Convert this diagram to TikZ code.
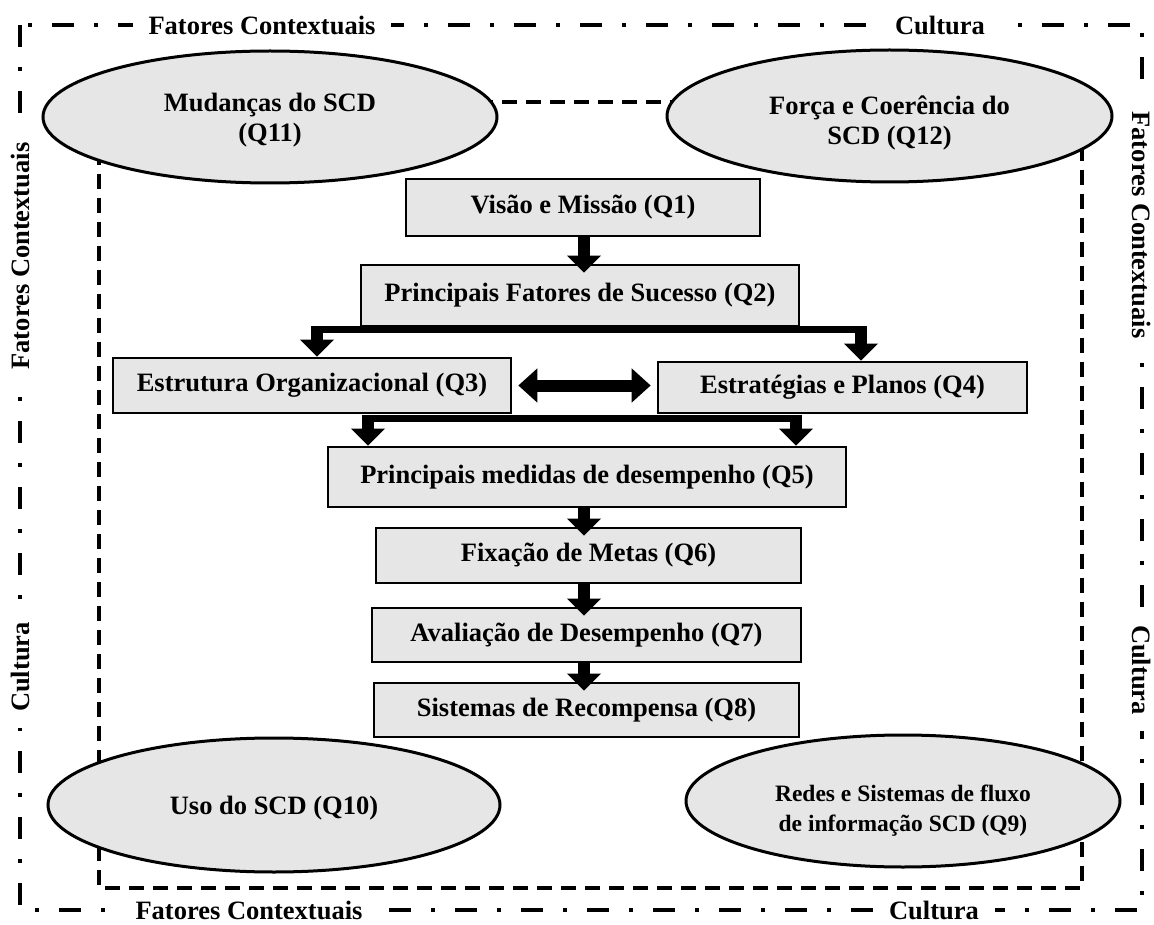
\documentclass[tikz,border=0pt]{standalone}
\usepackage{xcolor}
\usepackage{fontspec}
\setmainfont{Liberation Serif}
\usepackage{tikz}
\usetikzlibrary{arrows.meta,shapes.geometric}
\definecolor{scdGray}{HTML}{E6E6E6}
\definecolor{scdInk}{HTML}{000000}
\tikzset{
  qbox/.style={draw=scdInk, fill=scdGray, line width=2.6pt, inner sep=0pt, lbl},
  qell/.style={ellipse, draw=scdInk, fill=scdGray, line width=3pt, inner sep=0pt, align=center, lbl},
  flow/.style={-{Triangle[width=33pt, length=17pt]}, line width=12pt, scdInk},
  dip/.style={shorten >=-9pt},
  both/.style={{Triangle[width=33pt, length=19pt]}-{Triangle[width=33pt, length=19pt]}, line width=12pt, shorten <=6pt, shorten >=6pt},
  bar/.style={line width=7pt, scdInk},
  frameline/.style={line width=4.5pt, dash pattern=on 22pt off 20pt on 4pt off 20pt},
  innerline/.style={line width=4.5pt, dash pattern=on 15pt off 9pt},
  edge/.style={fill=white, inner xsep=16pt, inner ysep=7pt, lbl},
  lbl/.style={font=\fontsize{26.5}{30}\selectfont\bfseries},
  sm/.style={font=\fontsize{23.5}{30}\selectfont\bfseries},
}
\begin{document}
\begin{tikzpicture}[x=1pt, y=-1pt]
  \useasboundingbox (0,0) rectangle (1154,925);
  % frames
  \draw[frameline] (20,25) rectangle (1142,910);
  \draw[innerline] (99,102) rectangle (1082,888);
  \node[edge] (topF) at (262,25) {Fatores Contextuais};
  \node[edge] (topC) at (940,25) {Cultura};
  \node[edge] (botF) at (249,910) {Fatores Contextuais};
  \node[edge] (botC) at (934,910) {Cultura};
  \node[edge, rotate=90] (leftF) at (20,256) {Fatores Contextuais};
  \node[edge, rotate=90] (leftC) at (20,667) {Cultura};
  \node[edge, rotate=-90] (rightF) at (1142,225) {Fatores Contextuais};
  \node[edge, rotate=-90] (rightC) at (1142,670) {Cultura};
  % the four SCD ellipses
  \node[qell, minimum width=454pt, minimum height=132pt] (q11) at (270,117) {\rule{0pt}{24pt}Mudanças do SCD\\(Q11)};
  \node[qell, minimum width=445pt, minimum height=132pt] (q12) at (889.5,116) {\rule{0pt}{32pt}Força e Coerência do\\SCD (Q12)};
  \node[qell, minimum width=452pt, minimum height=134pt] (q10) at (274,805) {\rule{0pt}{24pt}Uso do SCD (Q10)};
  \node[qell, sm, minimum width=434pt, minimum height=132pt] (q9) at (903,801) {\rule{0pt}{36pt}Redes e Sistemas de fluxo\\de informação SCD (Q9)};
  % chain of boxes
  \node[qbox, minimum width=354pt, minimum height=57pt] (q1) at (583,207.5) {Visão e Missão (Q1)};
  \node[qbox, minimum width=438pt, minimum height=61pt] (q2) at (580,295.5) {Principais Fatores de Sucesso (Q2)};
  \node[qbox, minimum width=398pt, minimum height=55pt] (q3) at (312,385.5) {Estrutura Organizacional (Q3)};
  \node[qbox, minimum width=369pt, minimum height=51pt] (q4) at (842.5,387.5) {Estratégias e Planos (Q4)};
  \node[qbox, minimum width=518pt, minimum height=60pt] (q5) at (587,477) {Principais medidas de desempenho (Q5)};
  \node[qbox, minimum width=425pt, minimum height=55pt] (q6) at (588.5,555.5) {Fixação de Metas (Q6)};
  \node[qbox, minimum width=429pt, minimum height=54pt] (q7) at (586.5,635) {Avaliação de Desempenho (Q7)};
  \node[qbox, minimum width=425pt, minimum height=54pt] (q8) at (586.5,710) {Sistemas de Recompensa (Q8)};
  % arrows
  \coordinate (mid) at (584,0);
  \coordinate (splitL) at (317,330);
  \coordinate (splitR) at (861,330);
  \coordinate (joinL) at (368,418);
  \coordinate (joinR) at (796,418);
  \draw[flow, dip] (q1.south -| mid) -- (q2.north -| mid);
  \draw[bar] (splitL) -- (splitR);
  \draw[flow] ([yshift=3.5pt]splitL) -- (splitL |- q3.north);
  \draw[flow] ([yshift=3.5pt]splitR) -- (splitR |- q4.north);
  \draw[both] (q3.east) -- (q3.east -| q4.west);
  \draw[bar] (joinL) -- (joinR);
  \draw[flow] ([yshift=3.5pt]joinL) -- (joinL |- q5.north);
  \draw[flow] ([yshift=3.5pt]joinR) -- (joinR |- q5.north);
  \draw[flow, dip] (q5.south -| mid) -- (q6.north -| mid);
  \draw[flow, dip] (q6.south -| mid) -- (q7.north -| mid);
  \draw[flow, dip] (q7.south -| mid) -- (q8.north -| mid);
\end{tikzpicture}
\end{document}
